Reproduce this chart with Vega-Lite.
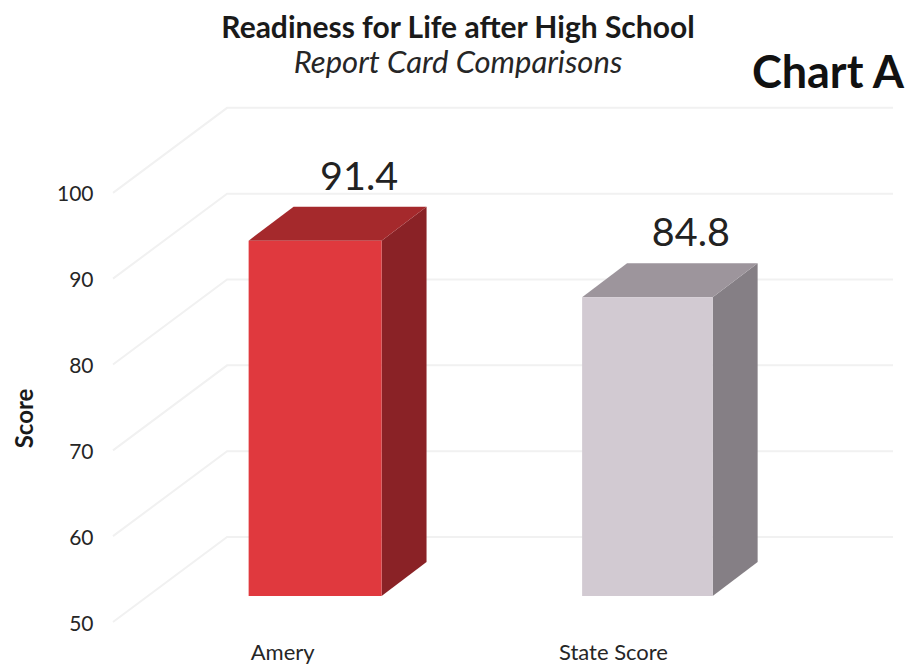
{
  "$schema": "https://vega.github.io/schema/vega-lite/v6.json",
  "width": 780,
  "height": 515,
  "autosize": "none",
  "padding": {"left": 113, "top": 107, "right": 25, "bottom": 44},
  "background": "white",
  "config": {"view": {"stroke": null}, "font": "Lato"},
  "title": {
    "text": "Readiness for Life after High School",
    "subtitle": "Report Card Comparisons",
    "anchor": "middle",
    "frame": "group",
    "dx": -45,
    "offset": -27,
    "font": "Lato",
    "fontSize": 30,
    "fontWeight": "bold",
    "color": "#1a1a1a",
    "subtitleFont": "Lato",
    "subtitleFontSize": 31,
    "subtitleFontStyle": "italic",
    "subtitleColor": "#262626",
    "subtitlePadding": 5
  },
  "datasets": {
    "scores": [
      {"label": "Amery", "score": 91.4, "floor": 50, "start": 0, "end": 1, "mid": 0.5, "shade": "Amery front"},
      {"label": "State Score", "score": 84.8, "floor": 50, "start": 2.508, "end": 3.49, "mid": 2.995, "shade": "State front"}
    ],
    "faces": [
      {"shade": "Amery side", "pos": 1, "top": 91.4, "bottom": 50},
      {"shade": "Amery side", "pos": 1.338, "top": 95.36, "bottom": 53.96},
      {"shade": "Amery top", "pos": 0, "top": 91.4, "bottom": 91.4},
      {"shade": "Amery top", "pos": 0.338, "top": 95.36, "bottom": 91.4},
      {"shade": "Amery top", "pos": 1, "top": 95.36, "bottom": 91.4},
      {"shade": "Amery top", "pos": 1.338, "top": 95.36, "bottom": 95.36},
      {"shade": "State side", "pos": 3.49, "top": 84.8, "bottom": 50},
      {"shade": "State side", "pos": 3.828, "top": 88.76, "bottom": 53.96},
      {"shade": "State top", "pos": 2.508, "top": 84.8, "bottom": 84.8},
      {"shade": "State top", "pos": 2.846, "top": 88.76, "bottom": 84.8},
      {"shade": "State top", "pos": 3.49, "top": 88.76, "bottom": 84.8},
      {"shade": "State top", "pos": 3.828, "top": 88.76, "bottom": 88.76}
    ],
    "grid": [
      {"tick": 50, "pos": -1.02, "level": 50},
      {"tick": 50, "pos": -0.162, "level": 59.9},
      {"tick": 50, "pos": 4.846, "level": 59.9},
      {"tick": 60, "pos": -1.02, "level": 60},
      {"tick": 60, "pos": -0.162, "level": 69.9},
      {"tick": 60, "pos": 4.846, "level": 69.9},
      {"tick": 70, "pos": -1.02, "level": 70},
      {"tick": 70, "pos": -0.162, "level": 79.9},
      {"tick": 70, "pos": 4.846, "level": 79.9},
      {"tick": 80, "pos": -1.02, "level": 80},
      {"tick": 80, "pos": -0.162, "level": 89.9},
      {"tick": 80, "pos": 4.846, "level": 89.9},
      {"tick": 90, "pos": -1.02, "level": 90},
      {"tick": 90, "pos": -0.162, "level": 99.9},
      {"tick": 90, "pos": 4.846, "level": 99.9},
      {"tick": 100, "pos": -1.02, "level": 100},
      {"tick": 100, "pos": -0.162, "level": 109.9},
      {"tick": 100, "pos": 4.846, "level": 109.9}
    ],
    "notes": [
      {"note": "Chart A", "pos": 4.357, "level": 113.8}
    ]
  },
  "layer": [
    {
      "data": {"name": "grid"},
      "mark": {"type": "line", "color": "#f1f1f1", "strokeWidth": 2, "clip": false},
      "encoding": {
        "x": {
          "field": "pos",
          "type": "quantitative",
          "scale": {"domain": [-1.02, 4.846], "nice": false, "zero": false},
          "axis": {
            "title": null,
            "domain": false,
            "ticks": false,
            "grid": false,
            "values": [0.252, 2.74],
            "labelExpr": "datum.value < 1 ? 'Amery' : 'State Score'",
            "labelFont": "Lato",
            "labelFontSize": 22,
            "labelColor": "#262626",
            "labelPadding": 20
          }
        },
        "y": {
          "field": "level",
          "type": "quantitative",
          "scale": {"domain": [50, 110], "nice": false, "zero": false},
          "axis": {
            "title": "Score",
            "titleFont": "Lato",
            "titleFontSize": 24,
            "titleFontWeight": "bold",
            "titleColor": "#1a1a1a",
            "titleX": -76,
            "titleY": 311,
            "domain": false,
            "ticks": false,
            "grid": false,
            "values": [50, 60, 70, 80, 90, 100],
            "labelFont": "Lato",
            "labelFontSize": 21,
            "labelColor": "#262626",
            "labelPadding": 20,
            "labelOffset": 2
          }
        },
        "detail": {"field": "tick", "type": "nominal"}
      }
    },
    {
      "data": {"name": "faces"},
      "mark": {"type": "area", "yOffset": -26, "y2Offset": -26, "clip": false},
      "encoding": {
        "x": {"field": "pos", "type": "quantitative"},
        "y": {"field": "top", "type": "quantitative"},
        "y2": {"field": "bottom"},
        "color": {
          "field": "shade",
          "type": "nominal",
          "legend": null,
          "scale": {
            "domain": ["Amery front", "Amery top", "Amery side", "State front", "State top", "State side"],
            "range": ["#E0393E", "#A5292C", "#8A2226", "#D2CAD2", "#9D959C", "#857F85"]
          }
        }
      }
    },
    {
      "data": {"name": "scores"},
      "mark": {"type": "rect", "yOffset": -26, "y2Offset": -26},
      "encoding": {
        "x": {"field": "start", "type": "quantitative"},
        "x2": {"field": "end"},
        "y": {"field": "score", "type": "quantitative"},
        "y2": {"field": "floor"},
        "color": {"field": "shade", "type": "nominal", "legend": null}
      }
    },
    {
      "data": {"name": "scores"},
      "mark": {"type": "text", "font": "Lato", "fontSize": 39.5, "color": "#222222", "dx": 44, "dy": -89, "baseline": "middle", "align": "center"},
      "encoding": {
        "x": {"field": "mid", "type": "quantitative"},
        "y": {"field": "score", "type": "quantitative"},
        "text": {"field": "score", "type": "quantitative", "format": ".1f"}
      }
    },
    {
      "data": {"name": "notes"},
      "mark": {"type": "text", "font": "Lato", "fontSize": 45, "fontWeight": "bold", "color": "#111111", "baseline": "middle", "align": "center", "clip": false},
      "encoding": {
        "x": {"field": "pos", "type": "quantitative"},
        "y": {"field": "level", "type": "quantitative"},
        "text": {"field": "note", "type": "nominal"}
      }
    }
  ]
}
